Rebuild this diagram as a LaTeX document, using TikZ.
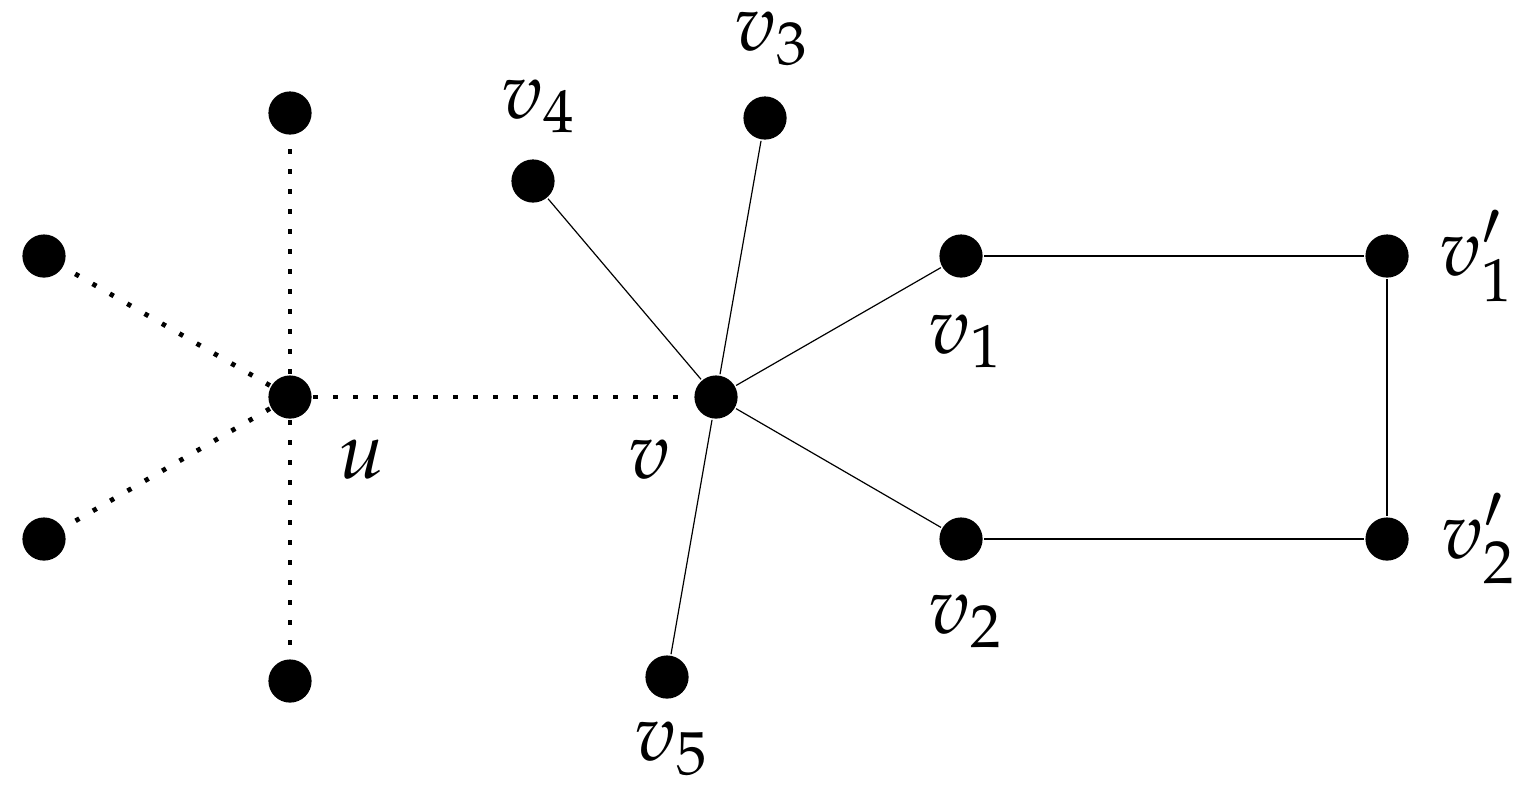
\documentclass[tikz,border=0pt]{standalone}
\usepackage{mathpazo}
\begin{document}
\begin{tikzpicture}[x=0.125pt,y=-0.125pt,
  vtx/.style={circle,fill=black,inner sep=0pt,minimum size=5.4pt},
  lbl/.style={inner sep=0pt,anchor=base west},
  dotline/.style={line width=0.6pt,dash pattern=on 0.55pt off 1.95pt},
  thinline/.style={line width=0.15pt}]
\useasboundingbox (0,0) rectangle (1521,796);
% vertices
\node[vtx] (u) at (290,397) {};
\node[vtx] (ut) at (290,113) {};
\node[vtx] (ub) at (290,681) {};
\node[vtx] (ul1) at (44,256) {};
\node[vtx] (ul2) at (44,539) {};
\node[vtx] (v) at (716,397) {};
\node[vtx] (v4) at (533,181) {};
\node[vtx] (v3) at (765,118) {};
\node[vtx] (v5) at (667,677) {};
\node[vtx] (v1) at (961,256) {};
\node[vtx] (v2) at (961,539) {};
\node[vtx] (v1p) at (1387,256) {};
\node[vtx] (v2p) at (1387,539) {};
% dotted edges
\draw[dotline] (u) -- (ut);
\draw[dotline] (u) -- (ub);
\draw[dotline] (u) -- (ul1);
\draw[dotline] (u) -- (ul2);
\draw[dotline] (u) -- (v);
% solid edges
\draw[thinline] (v) -- (v4);
\draw[thinline] (v) -- (v3);
\draw[thinline] (v) -- (v5);
\draw[thinline] (v) -- (v1);
\draw[thinline] (v) -- (v2);
\draw[thinline] (v1) -- (v1p);
\draw[thinline] (v1p) -- (v2p);
\draw[thinline] (v2p) -- (v2);
% labels
\node[lbl] (lu) at (337,478) {$u$};
\node[lbl] (lv) at (627,478) {$v$};
\node[lbl] (lv3) at (733,50) {$v_3$};
\node[lbl] (lv4) at (500,118) {$v_4$};
\node[lbl] (lv1) at (927,353) {$v_1$};
\node[lbl] (lv2) at (927,633) {$v_2$};
\node[lbl] (lv5) at (633,760) {$v_5$};
\node[lbl] (lv1p) at (1438,275) {$v_1'$};
\node[lbl] (lv2p) at (1440,558) {$v_2'$};
\end{tikzpicture}
\end{document}
